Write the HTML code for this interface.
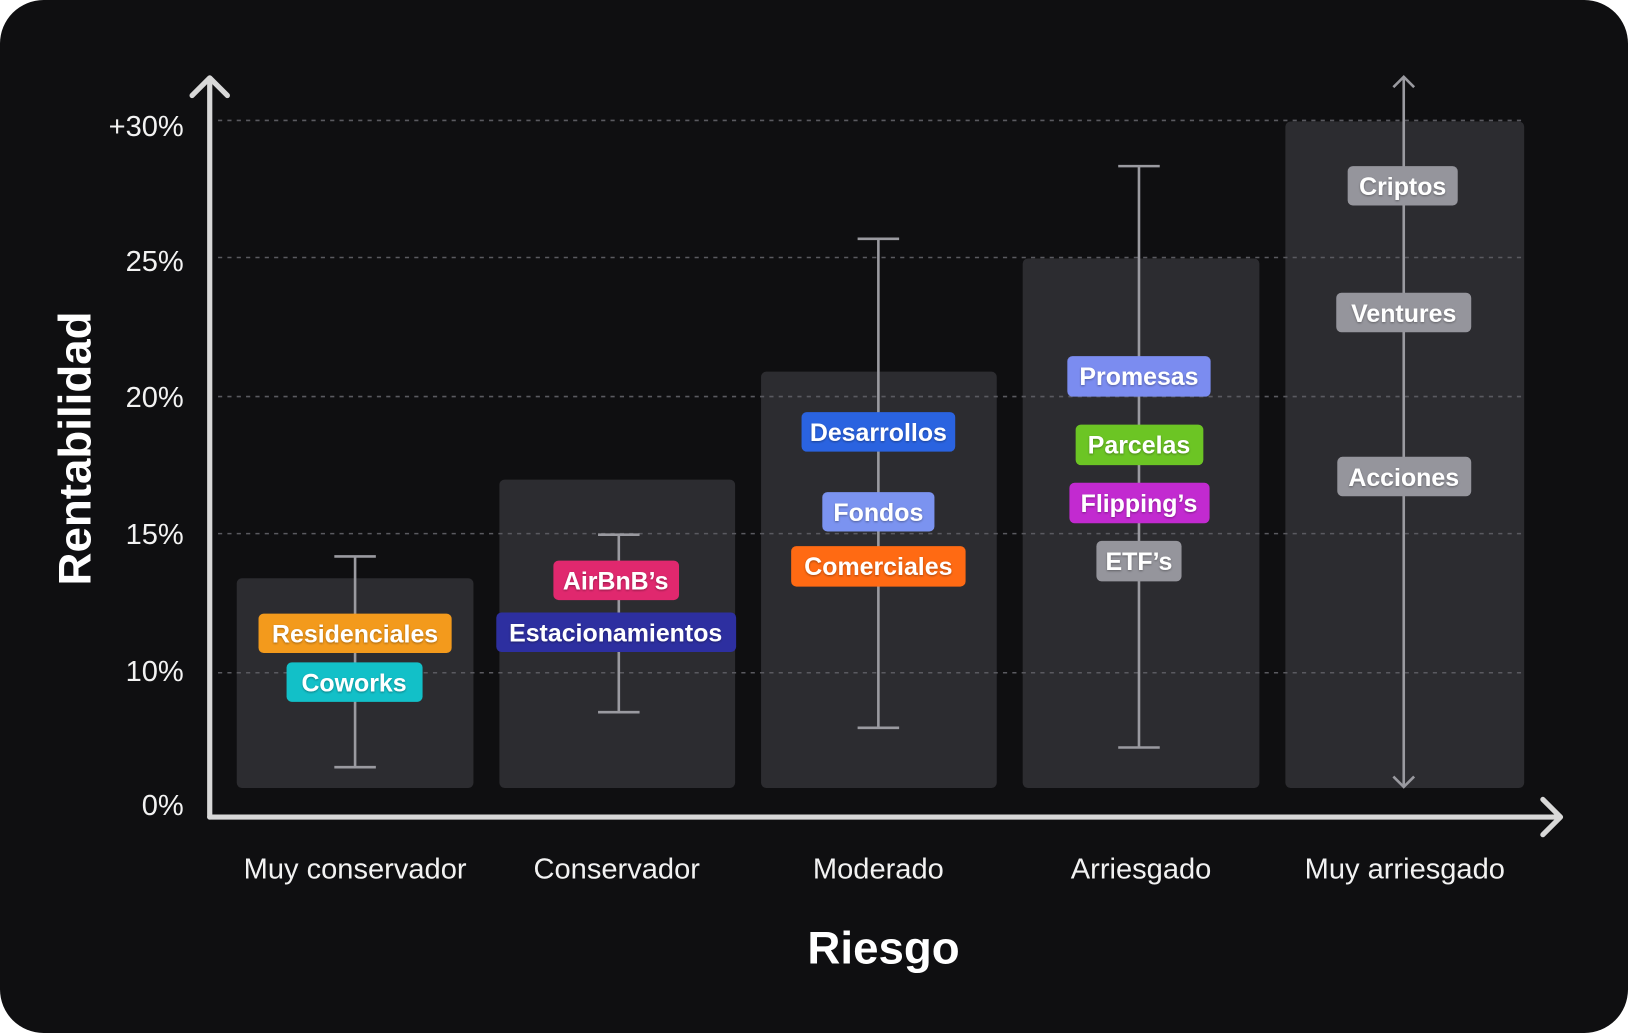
<!DOCTYPE html>
<html><head><meta charset="utf-8"><style>
html,body{margin:0;padding:0;background:#fff;}
svg{display:block;font-family:"Liberation Sans",sans-serif;}
</style></head><body>
<svg width="1628" height="1033" viewBox="0 0 1568 995" preserveAspectRatio="none">
<defs><filter id="s" x="-20%" y="-20%" width="140%" height="140%"><feDropShadow dx="0" dy="1" stdDeviation="1" flood-color="#000" flood-opacity="0.35"/></filter></defs>
<rect x="0" y="0" width="1568" height="995" rx="42" fill="#0f0f11"/>
<g fill="#2c2c30">
<rect x="228" y="557" width="228" height="202" rx="5"/>
<rect x="481" y="462" width="227" height="297" rx="5"/>
<rect x="733" y="358" width="227" height="401" rx="5"/>
<rect x="985" y="249" width="228" height="510" rx="5"/>
<rect x="1238" y="117" width="230" height="642" rx="5"/>
</g>
<g stroke="#5a5a60" stroke-width="1.5" stroke-dasharray="4,5">
<line x1="210" y1="116" x2="1468" y2="116"/>
<line x1="210" y1="248" x2="1468" y2="248"/>
<line x1="210" y1="382" x2="1468" y2="382"/>
<line x1="210" y1="514" x2="1468" y2="514"/>
<line x1="210" y1="648" x2="1468" y2="648"/>
</g>
<g stroke="#9a9aa0" stroke-width="2.5" fill="none">
<line x1="342" y1="536" x2="342" y2="739"/><line x1="322" y1="536" x2="362" y2="536"/><line x1="322" y1="739" x2="362" y2="739"/>
<line x1="596" y1="515" x2="596" y2="686"/><line x1="576" y1="515" x2="616" y2="515"/><line x1="576" y1="686" x2="616" y2="686"/>
<line x1="846" y1="230" x2="846" y2="701"/><line x1="826" y1="230" x2="866" y2="230"/><line x1="826" y1="701" x2="866" y2="701"/>
<line x1="1097" y1="160" x2="1097" y2="720"/><line x1="1077" y1="160" x2="1117" y2="160"/><line x1="1077" y1="720" x2="1117" y2="720"/>
<line x1="1352" y1="74" x2="1352" y2="758"/>
<polyline points="1342,84 1352,74 1362,84"/><polyline points="1342,748 1352,758 1362,748"/>
</g>
<g stroke="#d8d8d8" stroke-width="5" fill="none" stroke-linecap="round" stroke-linejoin="round">
<line x1="202" y1="77" x2="202" y2="787"/><line x1="202" y1="787" x2="1502" y2="787"/>
<polyline points="185,92 202,75 219,92"/><polyline points="1486,770 1503,787 1486,804"/>
</g>
<g fill="#f2f2f2" font-size="28" text-anchor="end">
<text x="177" y="131">+30%</text><text x="177" y="261">25%</text><text x="177" y="392">20%</text>
<text x="177" y="524">15%</text><text x="177" y="656">10%</text><text x="177" y="785">0%</text>
</g>
<g fill="#f2f2f2" font-size="28" text-anchor="middle">
<text x="342" y="846">Muy conservador</text><text x="594" y="846">Conservador</text>
<text x="846" y="846">Moderado</text><text x="1099" y="846">Arriesgado</text><text x="1353" y="846">Muy arriesgado</text>
</g>
<text x="851" y="928" fill="#fff" font-size="44" font-weight="bold" text-anchor="middle">Riesgo</text>
<text transform="translate(87,432) rotate(-90)" fill="#fff" font-size="44" font-weight="bold" text-anchor="middle">Rentabilidad</text>
<g font-size="24" font-weight="bold" fill="#fff" text-anchor="middle">
<rect x="249" y="591" width="186" height="38" rx="5" fill="#f39a1c"/><text x="342" y="619" filter="url(#s)">Residenciales</text>
<rect x="276" y="638" width="131" height="38" rx="5" fill="#12c0c8"/><text x="341" y="666" filter="url(#s)">Coworks</text>
<rect x="533" y="540" width="121" height="38" rx="5" fill="#e0286e"/><text x="593" y="568" filter="url(#s)">AirBnB’s</text>
<rect x="478" y="590" width="231" height="38" rx="5" fill="#2d2fa0"/><text x="593" y="618" filter="url(#s)">Estacionamientos</text>
<rect x="772" y="397" width="148" height="38" rx="5" fill="#2a63e0"/><text x="846" y="425" filter="url(#s)">Desarrollos</text>
<rect x="792" y="474" width="108" height="38" rx="5" fill="#7b93f0"/><text x="846" y="502" filter="url(#s)">Fondos</text>
<rect x="762" y="526" width="168" height="39" rx="5" fill="#ff6a13"/><text x="846" y="554" filter="url(#s)">Comerciales</text>
<rect x="1028" y="343" width="138" height="39" rx="5" fill="#7b8cf0"/><text x="1097" y="371" filter="url(#s)">Promesas</text>
<rect x="1036" y="409" width="123" height="39" rx="5" fill="#6cc524"/><text x="1097" y="437" filter="url(#s)">Parcelas</text>
<rect x="1030" y="465" width="135" height="39" rx="5" fill="#c22ad0"/><text x="1097" y="493" filter="url(#s)">Flipping’s</text>
<rect x="1056" y="521" width="82" height="39" rx="5" fill="#95959c"/><text x="1097" y="549" filter="url(#s)">ETF’s</text>
<rect x="1298" y="160" width="106" height="38" rx="5" fill="#95959c"/><text x="1351" y="188" filter="url(#s)">Criptos</text>
<rect x="1287" y="282" width="130" height="38" rx="5" fill="#95959c"/><text x="1352" y="310" filter="url(#s)">Ventures</text>
<rect x="1288" y="440" width="129" height="38" rx="5" fill="#95959c"/><text x="1352" y="468" filter="url(#s)">Acciones</text>
</g>
</svg>
</body></html>
